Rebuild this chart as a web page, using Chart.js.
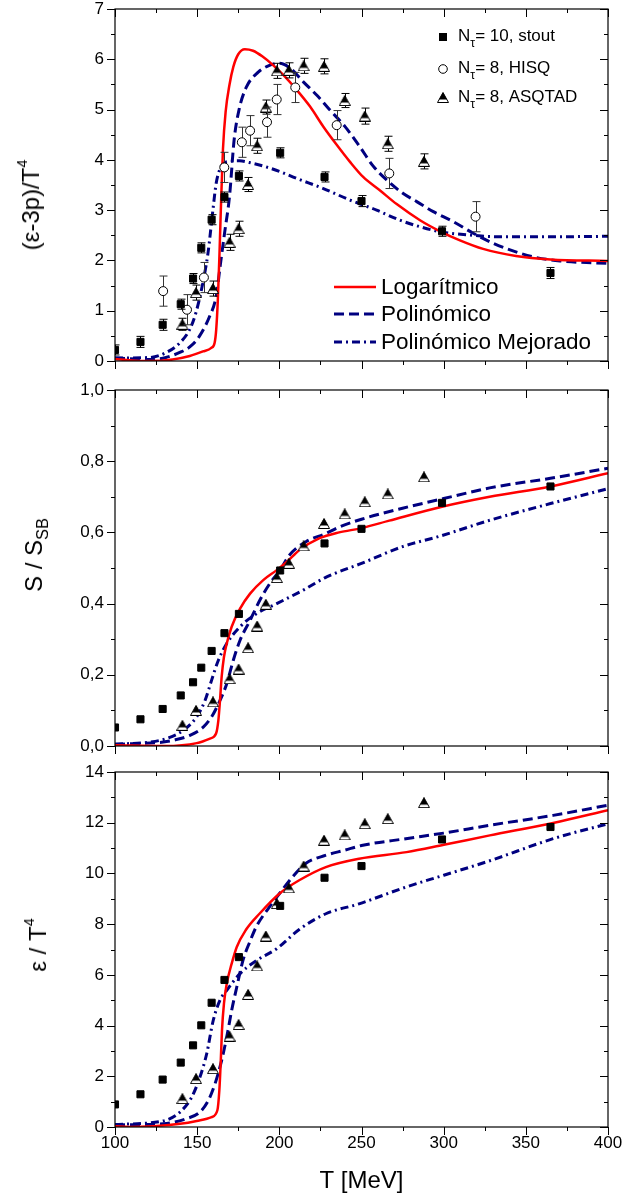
<!DOCTYPE html>
<html>
<head>
<meta charset="utf-8">
<script src="https://cdn.jsdelivr.net/npm/chart.js@4.4.1/dist/chart.umd.min.js"></script>
<style>
  body { margin: 0; background: #fff; }
  #wrap { position: relative; width: 624px; height: 1200px; overflow: hidden;
          font-family: "Liberation Sans", Arial, sans-serif; color: #000; }
  .pane { position: absolute; left: 0; width: 624px; }
  .ytitle { position: absolute; font-size: 24px; white-space: nowrap; line-height: 1;
            transform: translate(-50%, -50%) rotate(-90deg); }
  .sup { font-size: 0.6em; position: relative; top: -0.8em; }
  .sub { font-size: 0.68em; position: relative; top: 0.38em; }
  .leg { position: absolute; white-space: nowrap; line-height: 1; }
  .leg svg { position: absolute; }
  .symtxt { font-size: 17px; }
  .subtau { font-size: 0.72em; position: relative; top: 0.45em; }
  .linetxt { font-size: 22.5px; }
</style>
</head>
<body>
<div id="wrap">
  <div class="pane" style="top:0;height:375px"><canvas id="cTrace" width="624" height="375"></canvas></div>
  <div class="pane" style="top:375px;height:385px"><canvas id="cEntropy" width="624" height="385"></canvas></div>
  <div class="pane" style="top:760px;height:440px"><canvas id="cEnergy" width="624" height="440"></canvas></div>

  <div class="ytitle" style="left:31px;top:205px">(ε-3p)/T<span class="sup">4</span></div>
  <div class="ytitle" style="left:34px;top:555px">S / S<span class="sub">SB</span></div>
  <div class="ytitle" style="left:38px;top:945px">ε / T<span class="sup">4</span></div>

  <!-- lattice data legend -->
  <div class="leg" style="left:434px;top:27px">
    <svg width="12" height="12" style="left:3px;top:4px"><rect x="2" y="2" width="8" height="8" fill="#000"/></svg>
    <span class="symtxt" style="position:absolute;left:24px;top:0">N<span class="subtau">τ</span>= 10, stout</span>
  </div>
  <div class="leg" style="left:434px;top:59px">
    <svg width="12" height="12" style="left:3px;top:4px"><circle cx="6" cy="6" r="4.3" fill="#fff" stroke="#000" stroke-width="1"/></svg>
    <span class="symtxt" style="position:absolute;left:24px;top:0">N<span class="subtau">τ</span>= 8, HISQ</span>
  </div>
  <div class="leg" style="left:434px;top:88px">
    <svg width="12" height="12" style="left:3px;top:4px"><path d="M6 0.5 L11.5 10.5 L0.5 10.5 Z" fill="#fff" stroke="#000" stroke-width="1"/><path d="M6 0.5 L10 7.6 L2 7.6 Z" fill="#000"/></svg>
    <span class="symtxt" style="position:absolute;left:24px;top:0">N<span class="subtau">τ</span>= 8, ASQTAD</span>
  </div>

  <!-- model legend -->
  <div class="leg" style="left:334px;top:276px">
    <svg width="44" height="8" style="left:0;top:7px"><line x1="0" y1="4" x2="42" y2="4" stroke="#ff0000" stroke-width="2.5"/></svg>
    <span class="linetxt" style="position:absolute;left:47px;top:0">Logarítmico</span>
  </div>
  <div class="leg" style="left:334px;top:303px">
    <svg width="44" height="8" style="left:0;top:7px"><line x1="0" y1="4" x2="42" y2="4" stroke="#000080" stroke-width="3" stroke-dasharray="10 5"/></svg>
    <span class="linetxt" style="position:absolute;left:47px;top:0">Polinómico</span>
  </div>
  <div class="leg" style="left:334px;top:331px">
    <svg width="44" height="8" style="left:0;top:7px"><line x1="0" y1="4" x2="42" y2="4" stroke="#000080" stroke-width="3" stroke-dasharray="8 4 2 4"/></svg>
    <span class="linetxt" style="position:absolute;left:47px;top:0">Polinómico Mejorado</span>
  </div>
</div>

<script>
// ---------- lattice QCD data ----------
const tStout = [100, 115.5, 129, 140, 147.5, 152.5, 158.8, 166.6, 175.4, 200.5, 227.5, 250, 299, 365];
const stoutTrace    = [0.22, 0.38, 0.72, 1.13, 1.64, 2.25, 2.81, 3.26, 3.68, 4.14, 3.66, 3.18, 2.58, 1.75];
const stoutTraceErr = [0.1, 0.11, 0.11, 0.1, 0.1, 0.1, 0.1, 0.1, 0.1, 0.1, 0.1, 0.11, 0.1, 0.11];
const stoutEntropy  = [0.052, 0.075, 0.104, 0.142, 0.179, 0.220, 0.267, 0.317, 0.371, 0.493, 0.569, 0.610, 0.683, 0.729];
const stoutEnergy   = [0.89, 1.29, 1.87, 2.54, 3.22, 4.01, 4.90, 5.80, 6.70, 8.72, 9.83, 10.29, 11.34, 11.83];

const tHisq = [129.3, 143.8, 154.1, 166.5, 177.2, 182.2, 192.5, 198.4, 209.7, 234.9, 266.9, 319.4];
const hisqTrace    = [1.39, 1.02, 1.66, 3.85, 4.35, 4.58, 4.75, 5.20, 5.44, 4.69, 3.73, 2.87];
const hisqTraceErr = [0.3, 0.3, 0.3, 0.3, 0.3, 0.3, 0.3, 0.3, 0.3, 0.29, 0.3, 0.3];

const tAsqtad = [141, 149.3, 159.6, 169.7, 175.2, 181, 186.5, 191.8, 198.5, 205.8, 214.8, 227.2, 239.8, 252, 266, 288];
const asqtadTrace    = [0.73, 1.36, 1.44, 2.36, 2.63, 3.51, 4.28, 5.05, 5.77, 5.78, 5.87, 5.86, 5.18, 4.87, 4.32, 3.97];
const asqtadTraceErr = [0.12, 0.15, 0.15, 0.16, 0.15, 0.14, 0.15, 0.14, 0.15, 0.15, 0.15, 0.15, 0.14, 0.16, 0.15, 0.15];
const asqtadEntropy  = [0.058, 0.100, 0.124, 0.189, 0.216, 0.276, 0.337, 0.398, 0.473, 0.513, 0.562, 0.625, 0.652, 0.686, 0.708, 0.756];
const asqtadEnergy   = [1.12, 1.91, 2.30, 3.58, 4.04, 5.23, 6.35, 7.53, 8.81, 9.43, 10.29, 11.31, 11.52, 11.96, 12.16, 12.79];

// ---------- model curves: (ε-3p)/T^4 ----------
const tLogTrace = [100, 110, 121, 135, 145.5, 153.5, 158.6, 160.6, 161.6, 162.6, 163.6, 164.6, 165.7, 167.3, 169.7, 172, 175, 179, 184, 190, 196, 202.4, 210.6, 218.7, 226.8, 234.9, 243, 251, 261.3, 271.4, 285.6, 297.8, 309.9, 324, 344, 365, 400];
const logTrace  = [0.04, 0.01, 0.0, 0.03, 0.1, 0.19, 0.26, 0.36, 0.63, 1.23, 2.15, 3.21, 4.21, 4.95, 5.5, 5.85, 6.1, 6.2, 6.17, 6.05, 5.89, 5.69, 5.39, 5.06, 4.66, 4.30, 3.96, 3.66, 3.39, 3.12, 2.80, 2.58, 2.40, 2.23, 2.09, 2.02, 1.99];
const tPolTrace = [100, 121, 131, 139.4, 145.5, 151.5, 157.6, 161.6, 164, 166.7, 169.7, 172.5, 175.5, 180, 187, 194, 200, 207.5, 214.6, 222.7, 230.8, 240, 249, 257, 265.3, 275.4, 283.6, 293.7, 305.9, 318, 330.2, 340.4, 354.5, 370.8, 400];
const polTrace  = [0.06, 0.03, 0.07, 0.17, 0.28, 0.5, 0.89, 1.29, 1.89, 2.55, 3.28, 4.4, 5.0, 5.45, 5.74, 5.88, 5.92, 5.80, 5.55, 5.29, 4.99, 4.66, 4.26, 3.88, 3.60, 3.33, 3.17, 2.97, 2.77, 2.54, 2.34, 2.21, 2.07, 1.99, 1.94];
const tImpTrace = [100, 121, 131.3, 139.4, 145.5, 149.5, 153.5, 156.6, 159.6, 161.6, 164.6, 167.7, 175.8, 183.8, 191.9, 200, 210.6, 226.8, 243, 259.2, 273.4, 285.6, 297.8, 314, 334.3, 364.7, 400];
const impTrace  = [0.06, 0.07, 0.17, 0.36, 0.63, 0.99, 1.56, 2.15, 3.01, 3.54, 3.87, 3.96, 3.98, 3.93, 3.86, 3.77, 3.63, 3.43, 3.20, 3.0, 2.80, 2.67, 2.57, 2.51, 2.47, 2.47, 2.48];

// ---------- model curves: S / S_SB ----------
const tLogEntropy = [100, 130, 149.7, 157.8, 161.5, 162.9, 163.9, 164.9, 166.3, 168, 171, 176.1, 182.2, 190.2, 198.4, 204.5, 212.1, 224.2, 236.4, 250, 266.9, 299, 328, 365, 400];
const logEntropy  = [0.002, 0.0, 0.008, 0.021, 0.035, 0.072, 0.128, 0.194, 0.25, 0.288, 0.335, 0.386, 0.428, 0.466, 0.494, 0.517, 0.55, 0.583, 0.60, 0.612, 0.633, 0.672, 0.70, 0.729, 0.766];
const tPolEntropy = [100, 129.4, 135.5, 145.6, 153.7, 158.8, 163.9, 168, 172, 176.1, 182.2, 188.2, 194.3, 200.4, 206.1, 216.2, 228.3, 236.4, 250, 275, 300, 328, 365, 400];
const polEntropy  = [0.005, 0.011, 0.016, 0.030, 0.053, 0.082, 0.128, 0.175, 0.241, 0.297, 0.353, 0.41, 0.457, 0.494, 0.536, 0.574, 0.597, 0.615, 0.637, 0.668, 0.695, 0.725, 0.752, 0.78];
const tImpEntropy = [100, 121.3, 131.4, 141.6, 149.7, 154.8, 158.8, 162.9, 168, 176.1, 186.2, 198.4, 214.6, 228.8, 250, 275, 297.4, 328, 365, 400];
const impEntropy  = [0.005, 0.011, 0.021, 0.044, 0.082, 0.128, 0.185, 0.241, 0.288, 0.335, 0.372, 0.40, 0.438, 0.475, 0.513, 0.56, 0.589, 0.634, 0.681, 0.723];

// ---------- model curves: ε / T^4 ----------
const tLogEnergy = [100, 109, 139.6, 149.7, 158.8, 162.3, 163.5, 164.3, 165.1, 166.3, 168, 171, 174.1, 179.5, 187.9, 200, 212.1, 228.3, 248.5, 277.4, 300.1, 328.1, 366.6, 400];
const logEnergy  = [0.03, 0.0, 0.13, 0.24, 0.39, 0.66, 1.45, 2.5, 3.81, 4.87, 5.65, 6.44, 7.1, 7.76, 8.41, 9.2, 9.73, 10.25, 10.58, 10.84, 11.13, 11.5, 11.99, 12.49];
const tPolEnergy = [100, 129.4, 143.6, 151.7, 156.8, 160.9, 164.9, 168, 171, 174.1, 178, 182, 186, 194, 200, 208, 216, 228, 240, 250, 277, 300, 328, 366.6, 400];
const polEnergy  = [0.08, 0.13, 0.33, 0.59, 1.05, 1.71, 2.63, 3.55, 4.60, 5.52, 6.6, 7.3, 7.9, 8.68, 9.2, 9.86, 10.39, 10.71, 10.92, 11.1, 11.37, 11.59, 11.9, 12.29, 12.69];
const tImpEnergy = [100, 129.4, 139.6, 146.7, 151.7, 155.8, 159.8, 163.9, 168, 176.1, 186.2, 198.4, 212.3, 228.3, 248.5, 277.4, 300.1, 328.1, 366.6, 400];
const impEnergy  = [0.1, 0.24, 0.59, 1.18, 1.97, 2.89, 4.21, 5.0, 5.39, 6.05, 6.57, 7.03, 7.8, 8.41, 8.8, 9.47, 9.93, 10.5, 11.37, 11.96];

// ---------- axis ticks ----------
const xTickLabels = [100, 150, 200, 250, 300, 350, 400];

const FONT = '"Liberation Sans", Arial, sans-serif';
const NAVY = '#000080';

function pts(xs, ys) { return xs.map((x, i) => ({ x, y: ys[i] })); }

// half-filled triangle marker
const triMarker = (() => {
  const c = document.createElement('canvas');
  c.width = 12; c.height = 11;
  const g = c.getContext('2d');
  g.beginPath(); g.moveTo(6, 0.5); g.lineTo(11.5, 10.5); g.lineTo(0.5, 10.5); g.closePath();
  g.fillStyle = '#fff'; g.fill();
  g.strokeStyle = '#000'; g.lineWidth = 1; g.stroke();
  g.beginPath(); g.moveTo(6, 0.5); g.lineTo(10, 7.6); g.lineTo(2, 7.6); g.closePath();
  g.fillStyle = '#000'; g.fill();
  return c;
})();

// vertical error bars drawn just before each dataset's markers
const errorBars = {
  id: 'errorBars',
  beforeDatasetDraw(chart, args) {
    const ds = chart.data.datasets[args.index];
    if (!ds.errors) return;
    const { ctx, chartArea: a, scales: { y } } = chart;
    ctx.save();
    ctx.beginPath(); ctx.rect(a.left, a.top, a.right - a.left, a.bottom - a.top); ctx.clip();
    ctx.strokeStyle = ds.errorColor || '#000';
    ctx.lineWidth = 1;
    args.meta.data.forEach((el, i) => {
      const v = ds.data[i].y, e = ds.errors[i];
      const x = Math.round(el.x) + 0.5;
      const y1 = y.getPixelForValue(v - e), y2 = y.getPixelForValue(v + e);
      ctx.beginPath();
      ctx.moveTo(x, y1); ctx.lineTo(x, y2);
      ctx.moveTo(x - 4, y1); ctx.lineTo(x + 4, y1);
      ctx.moveTo(x - 4, y2); ctx.lineTo(x + 4, y2);
      ctx.stroke();
    });
    ctx.restore();
  }
};

// box frame with major / minor ticks on all four sides
const frame = {
  id: 'frame',
  afterDatasetsDraw(chart, args, o) {
    const { ctx, chartArea: a, scales: { x, y } } = chart;
    const L = a.left, R = a.right, T = a.top, B = a.bottom;
    ctx.save();
    ctx.strokeStyle = '#000';
    ctx.lineWidth = 1.2;
    ctx.strokeRect(L, T, R - L, B - T);
    const vals = (min, max, step) => {
      const out = []; const n = Math.round((max - min) / step);
      for (let i = 0; i <= n; i++) out.push(min + i * step);
      return out;
    };
    ctx.lineWidth = 1;
    ctx.beginPath();
    vals(x.min, x.max, o.xMinor).forEach((v, i) => {
      const len = (i % 2 === 0) ? 8 : 4;
      const px = Math.round(x.getPixelForValue(v)) + 0.5;
      ctx.moveTo(px, B); ctx.lineTo(px, B + len);
      ctx.moveTo(px, T); ctx.lineTo(px, T + len);
    });
    vals(y.min, y.max, o.yMinor).forEach((v, i) => {
      const len = (i % 2 === 0) ? 8 : 4;
      const py = Math.round(y.getPixelForValue(v)) + 0.5;
      ctx.moveTo(L, py); ctx.lineTo(L - len, py);
      ctx.moveTo(R, py); ctx.lineTo(R - len, py);
    });
    ctx.stroke();
    ctx.restore();
  }
};

function lattice(label, xs, ys, kind, errs) {
  const base = { label, data: pts(xs, ys), showLine: false, clip: 0 };
  if (kind === 'square') Object.assign(base, { pointStyle: 'rect', pointRadius: 5, backgroundColor: '#000', borderColor: '#000', borderWidth: 1 });
  if (kind === 'circle') Object.assign(base, { pointStyle: 'circle', pointRadius: 4.5, backgroundColor: '#fff', borderColor: '#000', borderWidth: 1, errorColor: '#333' });
  if (kind === 'triangle') Object.assign(base, { pointStyle: triMarker, pointRadius: 5 });
  if (errs) base.errors = errs;
  base.pointHoverRadius = base.pointRadius;
  return base;
}

function model(label, xs, ys, kind) {
  const ds = { label, data: pts(xs, ys), showLine: true, pointRadius: 0, pointHoverRadius: 0,
               cubicInterpolationMode: 'monotone', fill: false, clip: 0 };
  if (kind === 'log') Object.assign(ds, { borderColor: '#ff0000', borderWidth: 2.5 });
  if (kind === 'pol') Object.assign(ds, { borderColor: NAVY, borderWidth: 3, borderDash: [10, 5] });
  if (kind === 'imp') Object.assign(ds, { borderColor: NAVY, borderWidth: 3, borderDash: [8, 4, 2, 4] });
  return ds;
}

function panel(id, cfg) {
  const tickFont = { family: FONT, size: 17 };
  new Chart(document.getElementById(id), {
    type: 'scatter',
    data: { datasets: cfg.datasets },
    plugins: [errorBars, frame],
    options: {
      responsive: false,
      animation: false,
      devicePixelRatio: 1,
      events: [],
      layout: { padding: { top: cfg.padTop, right: 16, bottom: 0, left: 0 } },
      plugins: {
        legend: { display: false },
        tooltip: { enabled: false },
        frame: { xMinor: 25, yMinor: cfg.yMinor }
      },
      scales: {
        x: {
          type: 'linear', min: 100, max: 400,
          grid: { display: false, drawTicks: false },
          border: { display: false },
          ticks: {
            display: cfg.xLabels, stepSize: 50, padding: 6,
            font: tickFont, color: '#000', maxRotation: 0,
            callback: v => xTickLabels.includes(v) ? String(v) : ''
          },
          title: {
            display: cfg.xLabels, text: 'T [MeV]', color: '#000',
            font: { family: FONT, size: 24 }, padding: { top: 0, bottom: 4 }
          },
          afterFit(s) { s.height = cfg.xHeight; s.paddingLeft = 0; s.paddingRight = 0; }
        },
        y: {
          type: 'linear', min: cfg.yMin, max: cfg.yMax,
          grid: { display: false, drawTicks: false },
          border: { display: false },
          ticks: {
            stepSize: cfg.yStep, padding: 11, font: tickFont, color: '#000',
            callback: cfg.yFormat
          },
          afterFit(s) { s.width = 115; s.paddingTop = 0; s.paddingBottom = 0; }
        }
      }
    }
  });
}

panel('cTrace', {
  padTop: 9, xHeight: 14, xLabels: false,
  yMin: 0, yMax: 7, yStep: 1, yMinor: 0.5,
  yFormat: v => String(v),
  datasets: [
    lattice('Nτ= 10, stout', tStout, stoutTrace, 'square', stoutTraceErr),
    lattice('Nτ= 8, HISQ', tHisq, hisqTrace, 'circle', hisqTraceErr),
    lattice('Nτ= 8, ASQTAD', tAsqtad, asqtadTrace, 'triangle', asqtadTraceErr),
    model('Logarítmico', tLogTrace, logTrace, 'log'),
    model('Polinómico', tPolTrace, polTrace, 'pol'),
    model('Polinómico Mejorado', tImpTrace, impTrace, 'imp')
  ]
});

panel('cEntropy', {
  padTop: 15, xHeight: 14, xLabels: false,
  yMin: 0, yMax: 1, yStep: 0.2, yMinor: 0.1,
  yFormat: v => v.toFixed(1).replace('.', ','),
  datasets: [
    lattice('Nτ= 10, stout', tStout, stoutEntropy, 'square'),
    lattice('Nτ= 8, ASQTAD', tAsqtad, asqtadEntropy, 'triangle'),
    model('Logarítmico', tLogEntropy, logEntropy, 'log'),
    model('Polinómico', tPolEntropy, polEntropy, 'pol'),
    model('Polinómico Mejorado', tImpEntropy, impEntropy, 'imp')
  ]
});

panel('cEnergy', {
  padTop: 12, xHeight: 73, xLabels: true,
  yMin: 0, yMax: 14, yStep: 2, yMinor: 1,
  yFormat: v => String(v),
  datasets: [
    lattice('Nτ= 10, stout', tStout, stoutEnergy, 'square'),
    lattice('Nτ= 8, ASQTAD', tAsqtad, asqtadEnergy, 'triangle'),
    model('Logarítmico', tLogEnergy, logEnergy, 'log'),
    model('Polinómico', tPolEnergy, polEnergy, 'pol'),
    model('Polinómico Mejorado', tImpEnergy, impEnergy, 'imp')
  ]
});
</script>
</body>
</html>
